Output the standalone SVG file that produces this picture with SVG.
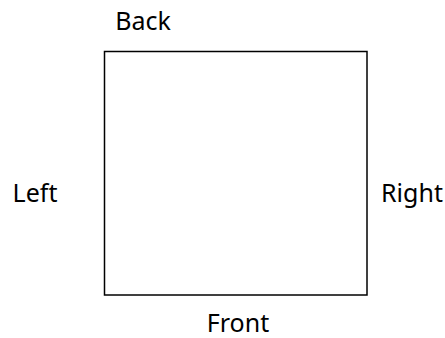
<svg xmlns="http://www.w3.org/2000/svg" width="445" height="338" viewBox="0 0 445 338">
<style>
.lbl{font-family:"Noto Sans","Open Sans",sans-serif;font-size:25px;fill:#000;text-anchor:middle}
.box{fill:#fff;stroke:#000;stroke-width:1.5}
</style>
<rect width="445" height="338" fill="#fff"/>
<g id="square"><rect class="box" x="104.5" y="51.5" width="262.5" height="243.5"/></g>
<g id="back"><text class="lbl" x="143" y="30">Back</text></g>
<g id="left"><text class="lbl" x="35" y="202">Left</text></g>
<g id="right"><text class="lbl" x="412" y="202">Right</text></g>
<g id="front"><text class="lbl" x="238" y="332">Front</text></g>
<g id="connectors"></g>
</svg>
